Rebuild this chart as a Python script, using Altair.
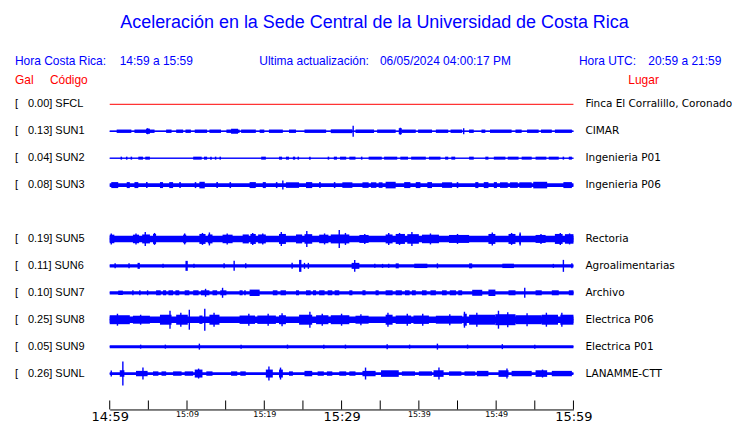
import altair as alt
import pandas as pd

# ---------------- data ----------------
codes = ["SFCL", "SUN1", "SUN2", "SUN3", "SUN5", "SUN6", "SUN7", "SUN8", "SUN9", "SUNL"]
gals = [0.00, 0.13, 0.04, 0.08, 0.19, 0.11, 0.10, 0.25, 0.05, 0.26]
places = ["Finca El Corralillo, Coronado", "CIMAR", "Ingenieria P01", "Ingenieria P06",
          "Rectoria", "Agroalimentarias", "Archivo", "Electrica P06", "Electrica P01", "LANAMME-CTT"]
rows = [0, 1, 2, 3, 5, 6, 7, 8, 9, 10]
# half-amplitude of continuous background band (trace units)
core = [0.0, 0.8, 0.5, 1.8, 3.2, 1.6, 1.6, 3.3, 1.5, 1.4]

# bursts: [start minute, end minute, half amplitude]
bursts = {
    "SUN1": [[0.9, 2.8, 1.7], [3.2, 5.8, 1.7], [4.7, 5.2, 2.6], [7.3, 8.0, 1.7], [8.6, 9.5, 1.7],
             [9.8, 10.5, 1.7], [11.0, 12.6, 1.7], [12.9, 14.4, 1.7], [15.1, 16.8, 1.7], [15.7, 16.6, 2.6],
             [17.0, 18.9, 1.7], [19.4, 20.0, 1.7], [20.6, 22.4, 1.7], [23.2, 24.1, 1.7], [25.2, 28.0, 1.7],
             [28.6, 31.4, 1.9], [31.8, 34.2, 1.7], [34.6, 37.0, 1.7], [37.4, 37.8, 3.0], [37.8, 39.6, 1.7],
             [39.9, 41.7, 1.7], [42.2, 43.8, 1.7], [44.1, 45.6, 1.7], [46.5, 47.1, 1.7], [48.1, 48.6, 1.7],
             [49.2, 52.0, 1.7], [52.5, 53.3, 1.7], [54.0, 55.5, 1.7], [55.8, 57.2, 1.7], [57.6, 59.8, 1.7]],
    "SUN2": [[1.4, 1.6, 1.5], [2.1, 2.3, 1.5], [2.7, 2.9, 1.5], [3.7, 4.3, 1.5], [4.6, 5.2, 1.5],
             [10.8, 11.9, 1.5], [12.2, 12.6, 1.5], [13.0, 13.2, 1.5], [13.6, 13.8, 1.5], [14.2, 14.4, 1.5],
             [19.6, 20.2, 1.5], [21.9, 22.3, 1.5], [22.8, 23.2, 1.5], [23.7, 24.0, 1.5], [24.3, 24.5, 1.5],
             [25.8, 26.0, 1.5], [28.2, 28.4, 1.5], [29.0, 29.4, 1.5], [29.8, 30.6, 1.5], [31.0, 31.8, 1.5],
             [32.5, 32.7, 1.5], [33.5, 35.2, 1.5], [35.5, 37.2, 1.5], [37.6, 38.6, 1.5], [39.0, 40.9, 1.5],
             [41.3, 42.8, 1.5], [43.4, 43.8, 1.5], [44.2, 44.7, 1.5], [46.5, 47.1, 1.5], [48.6, 49.0, 1.5],
             [49.7, 51.2, 1.5], [51.5, 52.9, 1.5], [53.3, 54.6, 1.5], [55.1, 56.5, 1.5], [56.8, 58.1, 1.5],
             [58.6, 58.8, 1.5], [59.4, 59.8, 1.5]],
    "SUN3": [[0.2, 1.1, 3.0], [2.2, 2.6, 3.0], [3.2, 3.7, 3.0], [4.7, 4.9, 3.0], [6.5, 6.9, 3.0],
             [7.7, 8.2, 3.0], [9.0, 9.2, 3.0], [11.0, 11.2, 3.0], [11.6, 12.3, 3.3], [13.8, 14.0, 3.0],
             [15.5, 15.7, 3.0], [18.1, 18.9, 3.0], [19.8, 20.2, 3.0], [21.5, 21.7, 3.0], [22.8, 24.5, 2.8],
             [25.4, 26.2, 3.0], [27.1, 27.3, 3.0], [29.0, 29.2, 3.0], [30.1, 31.4, 2.8], [32.7, 33.5, 2.8],
             [33.8, 34.5, 2.8], [34.8, 35.3, 2.8], [35.7, 37.0, 3.3], [38.1, 38.9, 3.0], [39.6, 40.2, 3.0],
             [41.1, 41.7, 3.0], [43.0, 44.3, 2.8], [44.9, 45.1, 3.0], [47.3, 47.7, 3.0], [48.4, 49.0, 3.0],
             [49.7, 50.1, 3.0], [50.5, 51.5, 2.8], [51.8, 52.8, 2.8], [53.0, 54.6, 2.8], [54.8, 56.6, 3.3],
             [58.7, 59.8, 3.0]],
    "SUN5": [[0.0, 0.6, 4.3], [3.0, 3.8, 4.3], [4.2, 5.2, 4.5], [5.6, 6.0, 5.0], [9.5, 9.9, 4.3],
             [11.6, 12.4, 5.0], [12.7, 13.3, 4.5], [14.6, 15.9, 4.3], [17.2, 18.0, 4.5], [18.2, 18.9, 5.0],
             [19.2, 20.2, 4.5], [21.9, 22.8, 5.0], [24.1, 24.9, 4.5], [25.2, 26.2, 4.8], [27.1, 28.3, 4.3],
             [28.6, 31.0, 4.5], [32.3, 33.5, 4.0], [35.7, 36.6, 4.5], [37.0, 38.2, 5.0], [38.5, 40.0, 4.8],
             [40.4, 42.6, 4.3], [43.9, 46.5, 4.0], [49.0, 49.9, 5.0], [51.6, 52.5, 5.0], [53.0, 53.2, 5.0],
             [55.1, 56.4, 4.0], [57.6, 58.6, 5.0], [58.9, 60.0, 4.8]],
    "SUN6": [[3.6, 3.9, 3.0], [9.8, 10.1, 5.0], [24.5, 24.8, 6.0], [31.3, 32.3, 3.0], [37.0, 37.4, 2.5],
             [39.4, 41.1, 2.2], [46.5, 46.9, 2.5], [50.8, 52.3, 2.2]],
    "SUN7": [[1.1, 1.7, 2.2], [6.0, 6.6, 2.5], [6.9, 7.3, 2.5], [7.6, 8.2, 2.5], [8.5, 9.0, 2.5],
             [9.7, 10.3, 2.5], [10.8, 11.5, 2.5], [11.8, 12.9, 2.5], [13.3, 13.9, 2.5], [14.3, 15.1, 2.5],
             [16.8, 17.2, 2.5], [17.4, 17.6, 2.5], [18.1, 19.4, 3.2], [21.1, 21.7, 2.5], [22.1, 22.8, 2.5],
             [24.1, 24.5, 2.5], [25.4, 26.0, 2.5], [26.3, 26.7, 2.5], [27.1, 27.8, 2.5], [28.2, 28.8, 2.5],
             [29.1, 29.7, 2.5], [31.0, 31.4, 2.5], [32.7, 33.1, 2.5], [34.4, 34.8, 2.5], [35.7, 36.6, 2.5],
             [37.0, 37.8, 2.5], [38.2, 38.8, 2.5], [39.1, 39.6, 2.5], [40.4, 41.0, 2.5], [41.5, 42.2, 2.5],
             [43.0, 43.6, 2.5], [44.0, 44.8, 2.5], [45.1, 45.6, 2.5], [46.9, 48.2, 3.0], [49.0, 49.9, 3.2],
             [51.6, 52.5, 2.5], [55.1, 55.9, 2.5], [57.2, 58.1, 2.5], [59.4, 60.0, 2.5]],
    "SUN8": [[0.0, 2.6, 4.5], [3.0, 5.2, 4.0], [6.5, 8.0, 5.0], [8.6, 10.1, 5.0], [11.6, 12.0, 4.2],
             [12.9, 14.2, 5.0], [16.8, 18.8, 4.2], [19.1, 21.5, 4.2], [21.9, 22.8, 4.5], [24.5, 26.2, 5.0],
             [26.7, 28.3, 4.5], [28.6, 31.0, 4.5], [31.8, 33.5, 4.0], [35.7, 36.6, 5.0], [37.0, 39.0, 4.2],
             [39.3, 41.3, 4.2], [42.2, 45.6, 4.0], [45.8, 46.2, 6.0], [46.5, 49.9, 5.0], [49.9, 52.5, 5.5],
             [52.5, 55.9, 4.5], [55.9, 58.0, 5.0], [58.3, 60.0, 5.0]],
    "SUN9": [],
    "SUNL": [[1.3, 1.9, 3.3], [3.4, 4.9, 2.7], [5.6, 6.3, 2.2], [6.7, 7.3, 2.2], [8.2, 9.3, 2.2],
             [9.7, 10.8, 2.2], [11.0, 12.0, 4.0], [12.5, 13.3, 2.2], [15.7, 16.5, 2.2], [16.9, 17.6, 2.2],
             [20.2, 21.1, 4.0], [21.9, 22.4, 4.0], [23.2, 23.7, 2.2], [25.2, 26.2, 2.7], [26.9, 27.7, 2.2],
             [28.1, 28.8, 2.2], [29.7, 30.6, 2.2], [31.0, 31.8, 2.2], [32.7, 34.4, 2.7], [35.1, 37.4, 3.3],
             [37.8, 39.5, 2.2], [40.0, 41.7, 2.2], [41.9, 43.2, 3.3], [43.9, 45.5, 2.2], [45.9, 47.3, 2.2],
             [47.5, 49.0, 2.7], [50.3, 51.6, 3.3], [52.0, 54.6, 2.7], [55.1, 56.6, 3.3], [57.2, 59.8, 2.7]],
}

# isolated spikes: [minute, half amplitude]
spikes = {
    "SUN1": [[31.5, 5.5], [4.9, 3.0], [45.8, 3.0], [37.6, 3.5]],
    "SUN2": [],
    "SUN3": [[22.4, 4.5]],
    "SUN5": [[0.2, 5.5], [3.4, 5.5], [4.6, 7.0], [5.8, 6.0], [9.7, 5.5], [12.0, 6.0], [12.9, 6.5],
             [15.2, 5.5], [18.5, 6.0], [19.8, 5.5], [22.2, 7.0], [25.5, 8.0], [27.8, 5.5], [29.7, 9.0],
             [30.5, 6.0], [33.0, 5.0], [36.1, 6.0], [37.5, 6.0], [39.1, 7.0], [41.5, 5.5], [45.0, 5.0],
             [49.5, 6.5], [52.0, 6.0], [53.1, 6.5], [55.8, 5.0], [58.3, 6.0], [59.5, 5.5]],
    "SUN6": [[0.7, 2.5], [2.5, 2.5], [6.9, 2.0], [10.9, 2.0], [14.8, 2.5], [16.1, 5.0], [17.6, 2.5],
             [23.6, 3.0], [25.2, 3.0], [25.7, 3.0], [31.7, 6.0], [34.3, 2.0], [35.3, 2.0], [36.1, 2.0],
             [42.4, 2.5], [57.4, 2.0], [58.7, 6.0], [59.8, 2.5]],
    "SUN7": [[3.0, 2.5], [3.9, 2.5], [4.9, 2.5], [12.4, 4.0], [14.6, 5.0], [53.7, 5.0]],
    "SUN8": [[1.0, 6.0], [4.0, 5.0], [7.8, 9.0], [9.2, 7.0], [10.3, 10.0], [12.3, 11.0], [13.5, 7.0],
             [18.0, 6.0], [20.5, 6.0], [22.3, 6.5], [25.9, 8.0], [27.5, 6.0], [30.0, 6.0], [32.5, 5.5],
             [36.0, 7.0], [38.5, 6.0], [40.5, 6.0], [44.0, 5.5], [45.9, 8.0], [47.5, 7.0], [50.3, 9.0],
             [51.5, 7.5], [54.0, 6.5], [56.5, 7.0], [58.5, 7.0]],
    "SUN9": [[11.6, 3.0], [35.9, 2.5], [42.4, 3.0], [50.8, 2.5], [4.0, 2.0], [7.2, 2.0], [17.0, 2.0],
             [23.0, 2.0], [27.7, 2.0], [30.5, 2.0], [38.8, 2.0], [46.3, 2.0], [55.0, 2.0]],
    "SUNL": [[0.2, 3.0], [1.7, 12.0], [4.3, 6.0], [11.5, 5.0], [20.6, 7.0], [22.1, 6.0], [33.1, 6.0],
             [42.6, 6.0], [51.4, 5.0], [56.0, 4.0]],
}

tick_minutes = list(range(0, 61, 5))
label_minutes = list(range(0, 61, 10))
time_labels = ["14:59", "15:09", "15:19", "15:29", "15:39", "15:49", "15:59"]

title_text = "Aceleración en la Sede Central de la Universidad de Costa Rica"
hora_cr = ["Hora Costa Rica:", "14:59 a 15:59"]
actualizacion = ["Ultima actualización:", "06/05/2024 04:00:17 PM"]
hora_utc = ["Hora UTC:", "20:59 a 21:59"]
col_heads = ["Gal", "Código", "Lugar"]

# ---------------- tables ----------------
UNIT = 1.0 / 27.0  # rows per trace amplitude unit
row_of = dict(zip(codes, rows))

st = pd.DataFrame({"code": codes, "gal": gals, "place": places, "row": rows, "core": core})
st["label"] = [f"{g:.2f}] {c}" for g, c in zip(gals, codes)]
st["lo"] = st["row"] - st["core"] * UNIT
st["hi"] = st["row"] + st["core"] * UNIT
st["x0"] = 0
st["x1"] = 60

b_rows = []
for c, lst in bursts.items():
    for s, e, a in lst:
        b_rows.append({"code": c, "start": s, "end": e,
                       "lo": row_of[c] - a * UNIT, "hi": row_of[c] + a * UNIT})
bdf = pd.DataFrame(b_rows)

s_rows = []
for c, lst in spikes.items():
    for m, a in lst:
        s_rows.append({"code": c, "m": m, "lo": row_of[c] - a * UNIT, "hi": row_of[c] + a * UNIT})
sdf = pd.DataFrame(s_rows)

tdf = pd.DataFrame({"m": tick_minutes})

# ---------------- scales / axes ----------------
W, H = 465, 320
BLUE = "#0000ff"
RED = "#ff0000"

label_expr = "[" + ",".join(f"'{t}'" for t in time_labels) + "][round(datum.value/10)]"
x_axis = alt.Axis(values=label_minutes, labelExpr=label_expr, ticks=False, grid=False,
                  domain=True, domainColor="black", domainWidth=1, title=None,
                  labelFont="DejaVu Sans", labelColor="black", labelOverlap=False,
                  labelFlush=False, labelPadding=1, labelBaseline="top",
                  labelFontSize={"condition": {"test": "datum.value % 30 == 0", "value": 13}, "value": 8})
xs = alt.Scale(domain=[0, 60], nice=False, zero=False)
ys = alt.Scale(domain=[-14 / 27, 306 / 27], reverse=True, nice=False, zero=False)


def X(field):
    return alt.X(field, type="quantitative", scale=xs, axis=x_axis)


def Y(field):
    return alt.Y(field, type="quantitative", scale=ys, axis=None)


base_line = alt.Chart(st).mark_rule(strokeWidth=1).encode(
    x=X("x0"), x2="x1:Q", y=Y("row"),
    color=alt.condition(alt.datum.gal == 0, alt.value(RED), alt.value(BLUE)),
)
core_rect = alt.Chart(st[st["core"] > 0]).mark_rect(color=BLUE, strokeWidth=0).encode(
    x=X("x0"), x2="x1:Q", y=Y("lo"), y2="hi:Q")
burst_rect = alt.Chart(bdf).mark_rect(color=BLUE, strokeWidth=0).encode(
    x=X("start"), x2="end:Q", y=Y("lo"), y2="hi:Q")
spike_rule = alt.Chart(sdf).mark_rule(color=BLUE, strokeWidth=1.4).encode(
    x=X("m"), y=Y("lo"), y2="hi:Q")
ticks = alt.Chart(tdf).mark_rule(color="black", strokeWidth=1).encode(
    x=X("m"), y=alt.value(H - 9), y2=alt.value(H))

left_br = alt.Chart(st).mark_text(align="left", baseline="middle", fontSize=11,
                                  font="Liberation Sans", color="black").encode(
    x=alt.value(-95), y=Y("row"), text=alt.value("["))
left_lab = alt.Chart(st).mark_text(align="left", baseline="middle", fontSize=11,
                                   font="Liberation Sans", color="black").encode(
    x=alt.value(-82), y=Y("row"), text="label:N")
right_lab = alt.Chart(st).mark_text(align="left", baseline="middle", fontSize=10.5,
                                    font="DejaVu Sans", color="black").encode(
    x=alt.value(477), y=Y("row"), text="place:N")


def txt(s, x, y, color, size, align="left", font="Liberation Sans"):
    return alt.Chart(pd.DataFrame({"t": [s]})).mark_text(
        align=align, baseline="middle", fontSize=size, font=font, color=color
    ).encode(x=alt.value(x), y=alt.value(y), text="t:N")


texts = [
    txt(title_text, 265.5, -68, BLUE, 18, align="center"),
    txt(hora_cr[0], -95, -29, BLUE, 12),
    txt(hora_cr[1], 10, -29, BLUE, 12),
    txt(actualizacion[0], 150, -29, BLUE, 12),
    txt(actualizacion[1], 271, -29, BLUE, 12),
    txt(hora_utc[0], 470.5, -29, BLUE, 12),
    txt(hora_utc[1], 540, -29, BLUE, 12),
    txt(col_heads[0], -95, -10, RED, 12),
    txt(col_heads[1], -60, -10, RED, 12),
    txt(col_heads[2], 520, -10, RED, 12),
]

chart = alt.layer(base_line, core_rect, burst_rect, spike_rule, ticks,
                  left_br, left_lab, right_lab, *texts).properties(
    width=W, height=H,
    autosize=alt.AutoSizeParams(type="none"),
    padding={"left": 102, "top": 82, "right": 159, "bottom": 13},
    background="white",
).configure_view(stroke=None)

chart.save("out.html", embed_options={"renderer": "svg", "actions": False})
